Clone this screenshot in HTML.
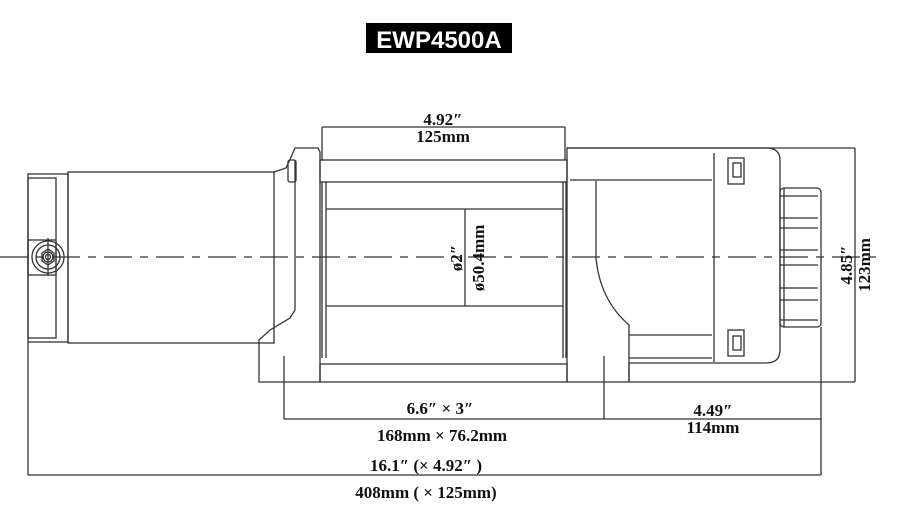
<!DOCTYPE html>
<html><head><meta charset="utf-8"><style>
html,body{margin:0;padding:0;background:#fff;width:902px;height:518px;overflow:hidden}
svg{display:block}
.t{font-family:"Liberation Serif",serif;font-size:17px;fill:#111;font-weight:bold}
</style></head><body>
<svg width="902" height="518" viewBox="0 0 902 518" xmlns="http://www.w3.org/2000/svg">
<rect x="366" y="23" width="146" height="30" fill="#000"/>
<text x="439" y="48" text-anchor="middle" font-family="Liberation Sans, sans-serif" font-weight="bold" font-size="24" fill="#fff">EWP4500A</text>
<g fill="none" stroke="#333" stroke-width="1.3">
<rect x="28" y="174" width="40" height="168"/>
<rect x="28" y="178" width="28" height="160"/>
<rect x="28" y="240" width="28" height="35"/>
<rect x="68" y="172" width="206" height="171"/>
<circle cx="48" cy="257" r="16"/><circle cx="48" cy="257" r="12"/><circle cx="48" cy="257" r="5"/><circle cx="48" cy="257" r="2.5"/>
<polygon points="42,253 48,249 54,253 54,261 48,265 42,261"/>
<line x1="48" y1="238" x2="48" y2="276"/>
<path d="M274,172 L286,168 L292,155 L295,148 L318,148 L320,152 L320,382 L259,382 L259,340 L270,330 L290,318 L295,310 L295,160"/>
<rect x="288" y="160" width="8" height="22" rx="2"/>
<rect x="320" y="160" width="247" height="22"/>
<rect x="320" y="364" width="247" height="18"/>
<line x1="322" y1="182" x2="322" y2="358"/><line x1="326" y1="182" x2="326" y2="358"/>
<line x1="563" y1="182" x2="563" y2="358"/><line x1="566" y1="182" x2="566" y2="358"/>
<line x1="326" y1="209" x2="563" y2="209"/>
<line x1="326" y1="306" x2="563" y2="306"/>
<line x1="465" y1="209" x2="465" y2="306"/>
<path d="M567,148 L766,148 Q780,148 780,160 L780,350 Q780,363 766,363 L629,363 L629,382 L567,382 Z"/>
<line x1="714" y1="153" x2="714" y2="362"/>
<line x1="570" y1="180" x2="712" y2="180"/>
<path d="M596,181 L596,258 Q600,300 629,325 L629,382"/>
<line x1="629" y1="335" x2="712" y2="335"/>
<line x1="629" y1="358" x2="712" y2="358"/>
<rect x="728" y="158" width="16" height="26"/><rect x="733" y="163" width="8" height="14"/>
<rect x="728" y="330" width="16" height="26"/><rect x="733" y="336" width="8" height="14"/>
<rect x="780" y="188" width="41" height="139" rx="4"/>
<line x1="780" y1="196" x2="818" y2="196"/><line x1="780" y1="218" x2="818" y2="218"/>
<line x1="780" y1="228" x2="818" y2="228"/><line x1="780" y1="250" x2="818" y2="250"/>
<line x1="780" y1="265" x2="818" y2="265"/><line x1="780" y1="288" x2="818" y2="288"/>
<line x1="780" y1="300" x2="818" y2="300"/><line x1="780" y1="320" x2="818" y2="320"/>
<line x1="784" y1="188" x2="784" y2="327"/>
<line x1="322" y1="127" x2="565" y2="127"/>
<line x1="322" y1="127" x2="322" y2="160"/><line x1="565" y1="127" x2="565" y2="160"/>
<line x1="567" y1="148" x2="855" y2="148"/><line x1="629" y1="382" x2="855" y2="382"/>
<line x1="855" y1="148" x2="855" y2="382"/>
<line x1="284" y1="356" x2="284" y2="419"/><line x1="604" y1="356" x2="604" y2="419"/>
<line x1="284" y1="419" x2="821" y2="419"/>
<line x1="821" y1="327" x2="821" y2="475"/>
<line x1="28" y1="342" x2="28" y2="475"/>
<line x1="28" y1="475" x2="821" y2="475"/>
<line x1="0" y1="257" x2="880" y2="257" stroke-dasharray="28,8,8,8"/>
</g>
<text class="t" x="443" y="125" text-anchor="middle">4.92″</text>
<text class="t" x="443" y="142" text-anchor="middle">125mm</text>
<text class="t" transform="translate(462,258) rotate(-90)" text-anchor="middle">ø2″</text>
<text class="t" transform="translate(484,258) rotate(-90)" text-anchor="middle">ø50.4mm</text>
<text class="t" transform="translate(852,265) rotate(-90)" text-anchor="middle">4.85″</text>
<text class="t" transform="translate(870,265) rotate(-90)" text-anchor="middle">123mm</text>
<text class="t" x="440" y="414" text-anchor="middle">6.6″  × 3″</text>
<text class="t" x="442" y="441" text-anchor="middle">168mm × 76.2mm</text>
<text class="t" x="713" y="416" text-anchor="middle">4.49″</text>
<text class="t" x="713" y="433" text-anchor="middle">114mm</text>
<text class="t" x="426" y="471" text-anchor="middle">16.1″ (× 4.92″ )</text>
<text class="t" x="426" y="498" text-anchor="middle">408mm ( × 125mm)</text>
</svg>
</body></html>
